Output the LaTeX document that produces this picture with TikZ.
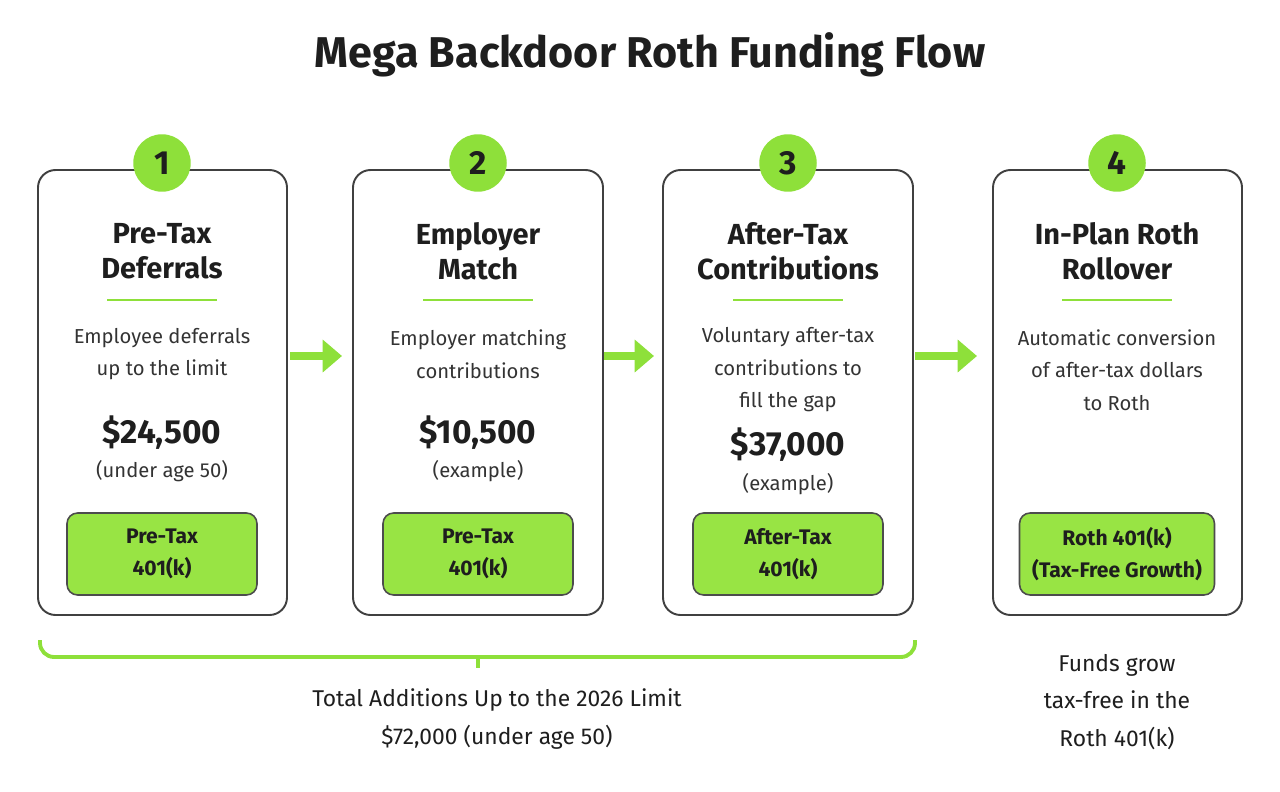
\documentclass[tikz,border=0pt]{standalone}
\usepackage{fontspec}
\setmainfont{Fira Sans}
\usetikzlibrary{arrows.meta}
\definecolor{lg}{HTML}{8EE03A}
\definecolor{lgb}{HTML}{98E444}
\definecolor{txt}{HTML}{1E1E1E}
\begin{document}
\begin{tikzpicture}[x=0.02cm,y=-0.02cm,
 card/.style={draw=black!75,line width=1.1pt,rounded corners=10pt},
 num/.style={circle,fill=lg,minimum size=1.15cm,font=\fontsize{19}{19}\selectfont\bfseries,text=txt},
 ttl/.style={font=\fontsize{16.5}{20}\selectfont\bfseries,text=txt,align=center},
 desc/.style={font=\fontsize{11.5}{18.5}\selectfont,text=black!80,align=center},
 amt/.style={font=\fontsize{19}{20}\selectfont\bfseries,text=txt},
 sub/.style={font=\fontsize{11.5}{14}\selectfont,text=black!80},
 gbox/.style={draw=black!70,line width=0.9pt,fill=lgb,rounded corners=6pt,minimum width=3.8cm,minimum height=1.64cm,align=center,font=\fontsize{12}{18}\selectfont\bfseries,text=txt},
 arr/.style={draw=lg,line width=5pt,-{Triangle[length=11pt,width=18pt]}},
 note/.style={font=\fontsize{13}{21.5}\selectfont,text=txt,align=center}]
\useasboundingbox (0,0) rectangle (1280,791);
\fill[white] (0,0) rectangle (1280,791);
\node[font=\fontsize{24.5}{24}\selectfont\bfseries,text=txt] (title) at (650,55) {Mega Backdoor Roth Funding Flow};
\foreach \i/\l/\r in {1/38/287,2/353/603,3/663/913,4/993/1242}{
  \draw[card] (\l,170) rectangle (\r,615);
}
\foreach \i/\x in {1/162,2/478,3/788,4/1117}{
  \node[num] (n\i) at (\x,163) {\i};
  \draw[lg,line width=1.2pt] (\x-55,300) -- (\x+55,300);
}
\node[ttl] (t1) at (162,251) {Pre-Tax\\Deferrals};
\node[ttl] (t2) at (478,251) {Employer\\Match};
\node[ttl] (t3) at (788,251) {After-Tax\\Contributions};
\node[ttl] (t4) at (1117,251) {In-Plan Roth\\Rollover};
\node[desc] (d1) at (162,354) {Employee deferrals\\up to the limit};
\node[desc] (d2) at (478,354) {Employer matching\\contributions};
\node[desc] (d3) at (788,370) {Voluntary after-tax\\contributions to\\fill the gap};
\node[desc] (d4) at (1117,370) {Automatic conversion\\of after-tax dollars\\to Roth};
\node[amt] (a1) at (162,433) {\$24,500};
\node[amt] (a2) at (478,433) {\$10,500};
\node[amt] (a3) at (788,445) {\$37,000};
\node[sub] (s1) at (162,471) {(under age 50)};
\node[sub] (s2) at (478,471) {(example)};
\node[sub] (s3) at (788,484) {(example)};
\node[gbox] (b1) at (162,554) {Pre-Tax\\401(k)};
\node[gbox] (b2) at (478,554) {Pre-Tax\\401(k)};
\node[gbox] (b3) at (788,554) {After-Tax\\401(k)};
\node[gbox,minimum width=3.9cm] (b4) at (1117,554) {Roth 401(k)\\(Tax-Free Growth)};
\coordinate (p1) at (290,356); \coordinate (q1) at (342,356);
\coordinate (p2) at (604,356); \coordinate (q2) at (654,356);
\coordinate (p3) at (915,356); \coordinate (q3) at (977,356);
\foreach \i in {1,2,3}{\draw[arr] (p\i) -- (q\i);}
\coordinate (bl) at (40,640); \coordinate (br) at (915,640);
\draw[lg,line width=2.2pt,rounded corners=8pt] (bl) -- (40,657) -- (915,657) -- (br);
\coordinate (bt) at (478,657); \coordinate (bb) at (478,668);
\draw[lg,line width=2.2pt] (bt) -- (bb);
\node[note] (tot) at (497,719) {Total Additions Up to the 2026 Limit\\\$72,000 (under age 50)};
\node[note] (grow) at (1117,702) {Funds grow\\tax-free in the\\Roth 401(k)};
\end{tikzpicture}
\end{document}
